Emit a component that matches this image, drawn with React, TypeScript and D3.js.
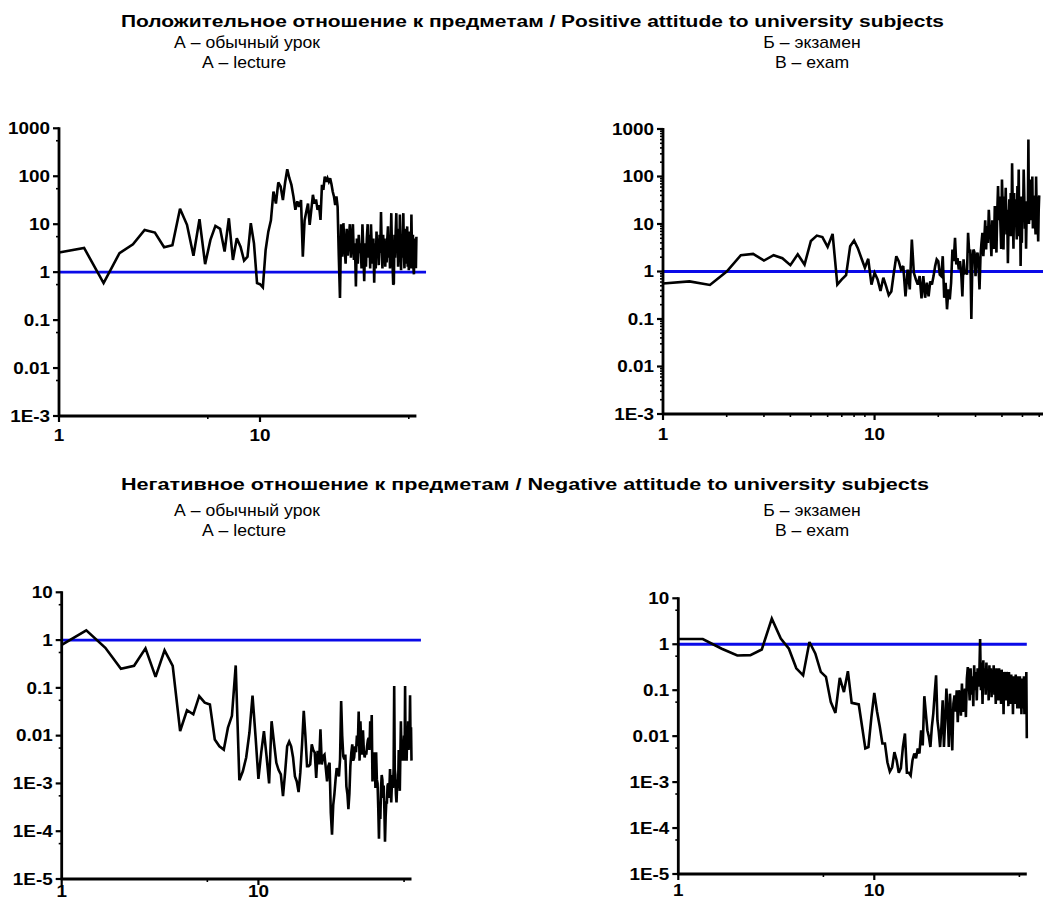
import React from "react";
import * as d3 from "d3";

// x grid: periods k/3 for k = 3..180 (1 .. 60)
const K_START = 3;
const K_END = 180;
const K_DIV = 3;
const periods: number[] = d3.range(K_START, K_END + 1).map((k) => k / K_DIV);

// Positive attitude, A – lecture
const posLecture: number[] = [
  2.57, 3.2, 0.59, 2.5, 3.8, 7.6, 6.7, 3.3, 3.65, 21, 9.7, 2.2, 12.7, 1.47, 4.7, 9.2, 8.0, 2.7, 13.3, 1.8,
  5.1, 3.4, 1.75, 2.1, 10.5, 4, 0.59, 0.56,
  0.48, 2.9, 7, 12, 48, 27, 74, 61, 32, 74, 140, 91, 66, 38, 20, 30, 23, 32, 2.1, 12, 18.5, 27, 9.7, 20,
  41, 27, 33, 20, 25, 12.3,
  66, 52, 98, 77, 91, 77, 91, 69, 48, 38, 25, 38, 23, 2.1, 0.29, 10, 2.1, 10.5,
  3.5, 1.5, 8, 2.2, 5, 10, 2, 4.5, 10, 1.8, 4, 0.5, 5, 1.5, 6, 2.5, 4, 1.2, 10, 3,
  0.65, 4, 1.3, 5, 10, 2, 6, 1.2, 10, 3, 1.5, 5, 0.6, 4, 1.2, 7, 2, 5, 1.4, 6,
  2.5, 18, 3, 1.2, 6, 2, 5, 1.3, 4, 1.6, 5, 9, 2, 5, 1.2, 4, 17, 3, 1.5, 0.55,
  0.58, 6, 2, 7, 17, 2.5, 5, 1.3, 8, 2, 16, 3, 1.1, 6, 2, 5, 17, 2.5, 1.2, 8,
  1.5, 5, 2, 9, 1.3, 4, 1.1, 7, 2, 5, 1.2, 16, 3, 1.5, 6, 1.2, 0.9, 4, 1.3, 5,
  1.2, 5.5,
];

// Positive attitude, B – exam
const posExam: number[] = [
  0.56, 0.62, 0.52, 1.0, 2.2, 2.35, 1.7, 2.2, 1.9, 1.36, 2.3, 1.4, 4.4, 5.7, 5.3, 3.3, 6.2, 0.53, 0.68, 0.84,
  3.4, 4.5, 3.1, 1.9, 1.2, 1.85, 0.53, 0.94,
  0.68, 0.39, 0.74, 0.49, 0.32, 0.38, 0.94, 2.1, 1.65, 1.1, 1.3, 0.3, 1.1, 0.42, 4.7, 0.94, 0.68, 0.53, 0.8, 0.27,
  0.8, 0.28, 0.58, 0.3, 0.62, 0.53, 0.8, 1.3, 1.8, 1.65,
  0.86, 0.8, 2.1, 0.28, 0.58, 0.16, 0.42, 0.26, 0.58, 2.9, 1.65, 5.1, 1.4, 1.9, 1.1, 1.65, 0.94, 0.3, 1.8, 0.94,
  1.0, 0.86, 6.5, 2.5, 2.9, 0.1, 1.8, 2.9, 2.5, 0.8,
  2.1, 2.5, 1.3, 0.42, 2.1, 4, 6.5, 2.1, 4.7, 12, 2.9, 9, 4, 20, 8, 5.5, 2.1, 12, 5.5, 3,
  24, 9, 2.5, 17, 63, 12, 38, 10, 3, 86, 24, 2.9, 38, 9, 58, 6, 20, 1.5, 12, 33,
  5.5, 45, 5.5, 190, 20, 3, 45, 10, 33, 12, 4.7, 63, 14, 140, 5.5, 38, 1.3, 14, 4, 38,
  14, 140, 38, 8, 30, 3, 17, 20, 12, 600, 10, 20, 38, 12, 86, 20, 100, 8, 40, 30,
  14, 12, 6, 100, 20, 38, 12, 4.3, 20, 40,
];

// Negative attitude, A – lecture
const negLecture: number[] = [
  0.79, 1.6, 0.69, 0.25, 0.29, 0.67, 0.17, 0.61, 0.29, 0.0125, 0.034, 0.028, 0.067, 0.049, 0.045, 0.0083, 0.006,
  0.0051, 0.0147, 0.026, 0.295, 0.00117, 0.0018, 0.0035, 0.0115, 0.069, 0.0098, 0.00125,
  0.0044, 0.0124, 0.0037, 0.001, 0.02, 0.0071, 0.0027, 0.0019, 0.00154, 0.00054, 0.0017, 0.006, 0.0075, 0.006,
  0.0035, 0.0014, 0.0011, 0.00066, 0.0017, 0.0066, 0.033, 0.0098, 0.0023, 0.0023, 0.0025, 0.0066, 0.005, 0.0044,
  0.0013, 0.0048,
  0.0025, 0.0135, 0.0025, 0.0037, 0.004, 0.0021, 0.0011, 0.0023, 0.0027, 0.00024, 0.000085, 0.00035, 0.0006,
  0.0012, 0.0021, 0.0017, 0.0014, 0.0032, 0.053, 0.0098, 0.0037, 0.0032, 0.004, 0.00087, 0.0006, 0.00029, 0.0006,
  0.0023, 0.0044, 0.0066,
  0.003, 0.0035, 0.006, 0.0045, 0.01, 0.006, 0.032, 0.003, 0.02, 0.006, 0.004, 0.013, 0.005, 0.0035, 0.0045,
  0.004, 0.006, 0.008, 0.009, 0.005, 0.02, 0.006, 0.027, 0.0011, 0.002, 0.003, 0.0045, 0.0008, 0.0045, 0.0012,
  0.001, 0.0003, 0.00007, 0.0004, 0.00018, 0.0008, 0.0015, 0.0012, 0.0005, 0.0009, 0.0003, 0.00006, 0.0002,
  0.0004, 0.0004, 0.0009, 0.001, 0.0005, 0.0008, 0.002, 0.0009, 0.0004, 0.0009, 0.0015, 0.0008, 0.002, 0.11,
  0.002, 0.0015, 0.0006, 0.0004, 0.0008, 0.0012, 0.001, 0.005, 0.0015, 0.0007, 0.004, 0.02, 0.005, 0.003, 0.008,
  0.004, 0.006, 0.01, 0.003, 0.11, 0.004, 0.008, 0.003, 0.01, 0.006, 0.02, 0.005, 0.008, 0.012, 0.07, 0.008,
  0.015, 0.003,
];

// Negative attitude, B – exam
const negExam: number[] = [
  1.3, 1.3, 0.8, 0.57, 0.58, 0.77, 3.6, 1.33, 0.8, 0.3, 0.21, 1.12, 0.63, 0.25, 0.195, 0.055, 0.032, 0.185, 0.091,
  0.26, 0.053, 0.051, 0.049, 0.016, 0.0054, 0.0058, 0.026, 0.087,
  0.034, 0.016, 0.0069, 0.0069, 0.0027, 0.0017, 0.0021, 0.0045, 0.003, 0.0016, 0.002, 0.0058, 0.0114, 0.0016,
  0.0016, 0.0014, 0.003, 0.0042, 0.0033, 0.0054, 0.0042, 0.0133, 0.0063, 0.074, 0.031, 0.0133, 0.0096, 0.0058,
  0.016, 0.031,
  0.084, 0.21, 0.022, 0.0124, 0.0058, 0.016, 0.06, 0.0058, 0.022, 0.108, 0.034, 0.0058, 0.084, 0.022, 0.0049,
  0.051, 0.077, 0.034, 0.1, 0.02, 0.1, 0.077, 0.028, 0.14, 0.034, 0.05, 0.108, 0.026, 0.18, 0.32,
  0.15, 0.06, 0.3, 0.08, 0.2, 0.045, 0.35, 0.1, 0.25, 0.06, 0.3, 0.12, 0.2, 1.3, 0.1, 0.4, 0.05, 0.45, 0.12, 0.3,
  0.08, 0.4, 0.15, 0.25, 0.06, 0.35, 0.1, 0.3, 0.07, 0.25, 0.12, 0.35, 0.08, 0.2, 0.05, 0.3, 0.1, 0.25, 0.06, 0.3,
  0.12, 0.2, 0.05, 0.28, 0.08, 0.2, 0.03, 0.25, 0.1, 0.22, 0.06, 0.25, 0.12, 0.18, 0.045, 0.25, 0.09, 0.2, 0.05,
  0.22, 0.1, 0.15, 0.03, 0.2, 0.08, 0.18, 0.05, 0.22, 0.1, 0.15, 0.04, 0.2, 0.07, 0.15, 0.04, 0.2, 0.08, 0.12,
  0.03, 0.18, 0.06, 0.12, 0.04, 0.2, 0.03, 0.15, 0.05, 0.05, 0.25, 0.009,
];

const refLevel = 1;

const yTicksPos = [1000, 100, 10, 1, 0.1, 0.01, 0.001];
const yLabelsPos = ["1000", "100", "10", "1", "0.1", "0.01", "1E-3"];
const yTicksNeg = [10, 1, 0.1, 0.01, 0.001, 0.0001, 0.00001];
const yLabelsNeg = ["10", "1", "0.1", "0.01", "1E-3", "1E-4", "1E-5"];
const xTicks = [1, 10];
const xLabels = ["1", "10"];

const titlePos = "Положительное отношение к предметам / Positive attitude to university subjects";
const titleNeg = "Негативное отношение к предметам / Negative attitude to university subjects";
const subLeft = ["А – обычный урок", "А – lecture"];
const subRight = ["Б – экзамен", "В – exam"];

const FONT = "'Liberation Sans', Arial, Helvetica, sans-serif";

function SText(props: {
  x: number; y: number; sx: number; size: number; bold?: boolean;
  anchor?: "start" | "middle" | "end"; dy?: string; children: React.ReactNode; textLength?: number;
}) {
  return (
    <text
      transform={`translate(${props.x},${props.y}) scale(${props.sx},1)`}
      dy={props.dy}
      textAnchor={props.anchor || "middle"}
      fontFamily={FONT}
      fontWeight={props.bold ? "bold" : "normal"}
      fontSize={props.size}
      fill="#000"
      textLength={props.textLength}
      lengthAdjust={props.textLength ? "spacingAndGlyphs" : undefined}
    >
      {props.children}
    </text>
  );
}

type PanelProps = {
  data: number[];
  left: number;
  right: number;
  top: number;
  bottom: number;
  xMax: number;
  refEnd: number;
  yDomain: [number, number];
  yTicks: number[];
  yLabels: string[];
  minor: "mid" | "full";
  xLabelY: number;
};

const TICK_SIZE = 16;
const TICK_SX = 1.18;

function Panel(p: PanelProps) {
  const x = d3.scaleLog().domain([1, p.xMax]).range([p.left, p.right]);
  const y = d3.scaleLog().domain(p.yDomain).range([p.bottom, p.top]);
  const pts: [number, number][] = periods.map((t, i) => [t, p.data[i]]);
  const line = d3
    .line<[number, number]>()
    .x((d) => x(d[0]))
    .y((d) => y(d[1]));

  const mults = p.minor === "mid" ? [5.5] : [2, 3, 4, 5, 6, 7, 8, 9];
  const xMinor: number[] = [];
  [1, 10].forEach((d) => mults.forEach((m) => { if (m * d <= p.xMax) xMinor.push(m * d); }));
  const yMinor: number[] = [];
  const lo = Math.log10(p.yDomain[0]);
  const hi = Math.log10(p.yDomain[1]);
  for (let e = lo; e < hi; e++) mults.forEach((m) => yMinor.push(m * Math.pow(10, e)));

  const sw = 2.8;
  return (
    <g>
      <path d={line([[1, refLevel], [p.refEnd, refLevel]]) || ""} stroke="#0a0ae8" strokeWidth={2.8} fill="none" />
      <path d={line(pts) || ""} stroke="#000" strokeWidth={2.6} fill="none" strokeLinejoin="miter" strokeMiterlimit={3} />
      <line x1={p.left} x2={p.left} y1={p.top - 1} y2={p.bottom + 1} stroke="#000" strokeWidth={sw} />
      <line x1={p.left - 1} x2={p.right} y1={p.bottom} y2={p.bottom} stroke="#000" strokeWidth={sw} />
      {p.yTicks.map((t, i) => (
        <g key={"yt" + i}>
          <line x1={p.left - 6} x2={p.left} y1={y(t)} y2={y(t)} stroke="#000" strokeWidth={2.2} />
          <SText x={p.left - 9} y={y(t)} dy="0.36em" anchor="end" bold size={TICK_SIZE} sx={TICK_SX}>
            {p.yLabels[i]}
          </SText>
        </g>
      ))}
      {yMinor.map((t, i) => (
        <line key={"ym" + i} x1={p.left - 3} x2={p.left} y1={y(t)} y2={y(t)} stroke="#000" strokeWidth={1.6} />
      ))}
      {xTicks.map((t, i) => (
        <g key={"xt" + i}>
          <line x1={x(t)} x2={x(t)} y1={p.bottom} y2={p.bottom + 6} stroke="#000" strokeWidth={2.2} />
          <SText x={x(t)} y={p.xLabelY} bold size={TICK_SIZE} sx={TICK_SX}>
            {xLabels[i]}
          </SText>
        </g>
      ))}
      {xMinor.map((t, i) => (
        <line key={"xm" + i} x1={x(t)} x2={x(t)} y1={p.bottom} y2={p.bottom + 3} stroke="#000" strokeWidth={1.6} />
      ))}
    </g>
  );
}

function Header({ title, titleX, titleW, yTitle, ySub }: { title: string; titleX: number; titleW: number; yTitle: number; ySub: number }) {
  return (
    <g>
      <SText x={titleX} y={yTitle} sx={1} size={16} bold textLength={titleW}>{title}</SText>
      <SText x={247} y={ySub} sx={1.1} size={16}>{subLeft[0]}</SText>
      <SText x={244} y={ySub + 20} sx={1.1} size={16}>{subLeft[1]}</SText>
      <SText x={812} y={ySub} sx={1.1} size={16}>{subRight[0]}</SText>
      <SText x={812} y={ySub + 20} sx={1.1} size={16}>{subRight[1]}</SText>
    </g>
  );
}

export default function App() {
  return (
    <svg width={1043} height={902} style={{ position: "absolute", left: 0, top: 0, background: "#fff" }}>
      <rect x={0} y={0} width={1043} height={902} fill="#fff" />
      <Header title={titlePos} titleX={532.5} titleW={823} yTitle={27} ySub={48} />
      <Header title={titleNeg} titleX={525} titleW={808} yTitle={490} ySub={516} />
      <Panel data={posLecture} left={59} right={416.4} top={128.3} bottom={416} xMax={60} refEnd={67}
        yDomain={[0.001, 1000]} yTicks={yTicksPos} yLabels={yLabelsPos} minor="mid" xLabelY={441} />
      <Panel data={posExam} left={663} right={1043.7} top={129} bottom={414} xMax={63} refEnd={63}
        yDomain={[0.001, 1000]} yTicks={yTicksPos} yLabels={yLabelsPos} minor="full" xLabelY={440} />
      <Panel data={negLecture} left={61.7} right={411.5} top={592.3} bottom={879} xMax={60} refEnd={67}
        yDomain={[0.00001, 10]} yTicks={yTicksNeg} yLabels={yLabelsNeg} minor="mid" xLabelY={897} />
      <Panel data={negExam} left={678.3} right={1026.8} top={598.3} bottom={874} xMax={60} refEnd={60}
        yDomain={[0.00001, 10]} yTicks={yTicksNeg} yLabels={yLabelsNeg} minor="mid" xLabelY={896} />
    </svg>
  );
}
